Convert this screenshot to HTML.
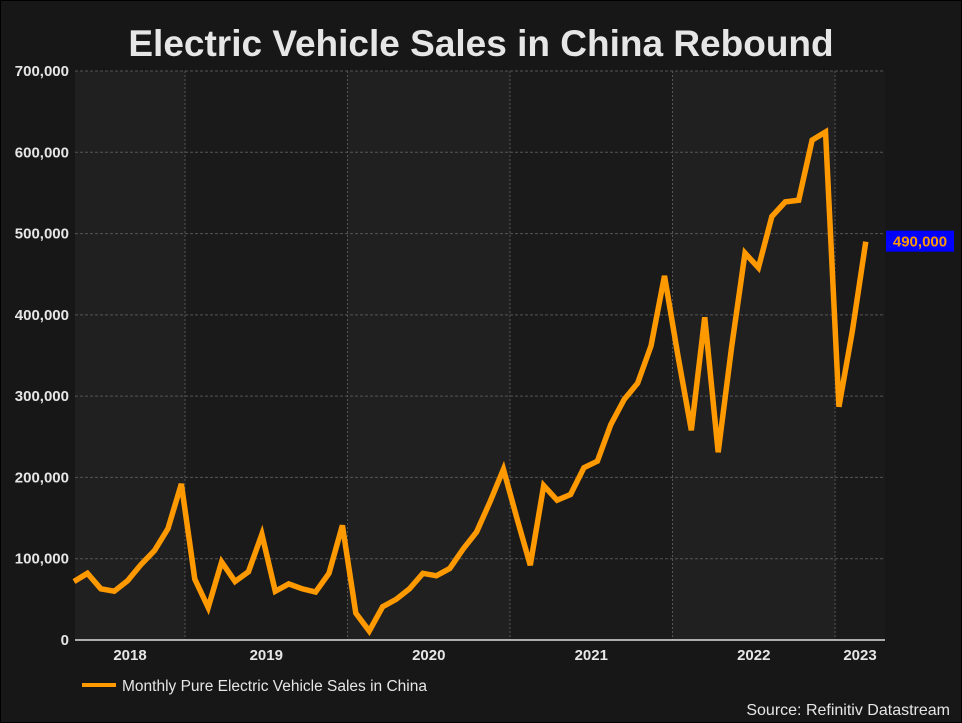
<!DOCTYPE html>
<html><head><meta charset="utf-8"><style>
html,body{margin:0;padding:0;background:#171717;}
svg{display:block;font-family:"Liberation Sans",Arial,sans-serif;}
</style></head><body>
<svg id="c" width="962" height="723" viewBox="0 0 962 723">
<rect x="0.5" y="0.5" width="961" height="722" fill="#171717" stroke="#000"/>
<text x="481" y="56" text-anchor="middle" font-size="37" font-weight="bold" fill="#e6e6e6">Electric Vehicle Sales in China Rebound</text>
<g id="bands"></g><g id="grid"></g><g id="axes"></g><g id="series"></g>
<g>
<line x1="82" y1="685" x2="116" y2="685" stroke="#ff9900" stroke-width="4"/>
<text x="122" y="691" font-size="15.5" fill="#e6e6e6">Monthly Pure Electric Vehicle Sales in China</text>
</g>
<text x="950" y="715" text-anchor="end" font-size="16" fill="#e6e6e6">Source: Refinitiv Datastream</text>
</svg>
<script>
const sales=[72000,82000,63000,60000,73000,93000,110000,137000,192000,75000,40000,96000,72000,84000,130000,60000,69000,63000,59000,82000,141000,33000,11000,41000,50000,63000,82000,79000,88000,112000,133000,170000,210000,150000,92000,190000,172000,179000,212000,220000,265000,296000,316000,362000,448000,350000,258000,397000,231000,360000,476000,458000,521000,539000,541000,615000,625000,287000,380000,490000];
const yTicks=[0,100000,200000,300000,400000,500000,600000,700000];
const yTickLabels=["0","100,000","200,000","300,000","400,000","500,000","600,000","700,000"];
const years=["2018","2019","2020","2021","2022","2023"];
const lastLabel="490,000";
const NS="http://www.w3.org/2000/svg";
const L=75,R=885,T=71,B=640,x0=74,step=13.42;
const x=i=>x0+i*step;
const y=v=>B-(v/700000)*(B-T);
function mk(tag,attrs,parent){const e=document.createElementNS(NS,tag);for(const k in attrs)e.setAttribute(k,attrs[k]);document.getElementById(parent).appendChild(e);return e;}
const bounds=[L];
for(let k=0;k<years.length-1;k++){bounds.push(Math.min(R,185+k*162.5));}
bounds.push(R);
for(let k=0;k<years.length;k++){
  const a=bounds[k],b=bounds[k+1];
  const r=mk('rect',{x:a,y:T,width:b-a,height:B-T,fill:k%2==0?'#202020':'#1a1a1a'},'bands');
  
  
  const t=mk('text',{x:(a+b)/2,y:660,'text-anchor':'middle','font-size':15,'font-weight':'bold',fill:'#e6e6e6'},'axes');
  t.textContent=years[k];
  
  
  if(k>0){const g=mk('line',{x1:a,y1:T,x2:a,y2:B,stroke:'#555','stroke-dasharray':'2,2'},'grid');
    
    }
}
yTicks.forEach((v,i)=>{
  if(v>0){const g=mk('line',{x1:L,y1:y(v),x2:R,y2:y(v),stroke:'#555','stroke-dasharray':'3,2'},'grid');
    
    }
  const t=mk('text',{x:69,y:y(v)+5,'text-anchor':'end','font-size':15,'font-weight':'bold',fill:'#e6e6e6'},'axes');
  t.textContent=yTickLabels[i];
  
  
});
const ax=mk('line',{x1:L,y1:B,x2:R,y2:B,stroke:'#ddd','stroke-width':1.5},'axes');


const p=mk('polyline',{points:sales.map((v,i)=>x(i)+','+y(v)).join(' '),fill:'none',stroke:'#ff9900','stroke-width':5.5,'stroke-linejoin':'miter'},'series');


const lv=sales[sales.length-1];
const bx=mk('rect',{x:886,y:y(lv)-11,width:68,height:21,fill:'#0000ff'},'series');


const lt=mk('text',{x:920,y:y(lv)+5,'text-anchor':'middle','font-size':15,'font-weight':'bold',fill:'#ff9900'},'series');
lt.textContent=lastLabel;


</script>
</body></html>
